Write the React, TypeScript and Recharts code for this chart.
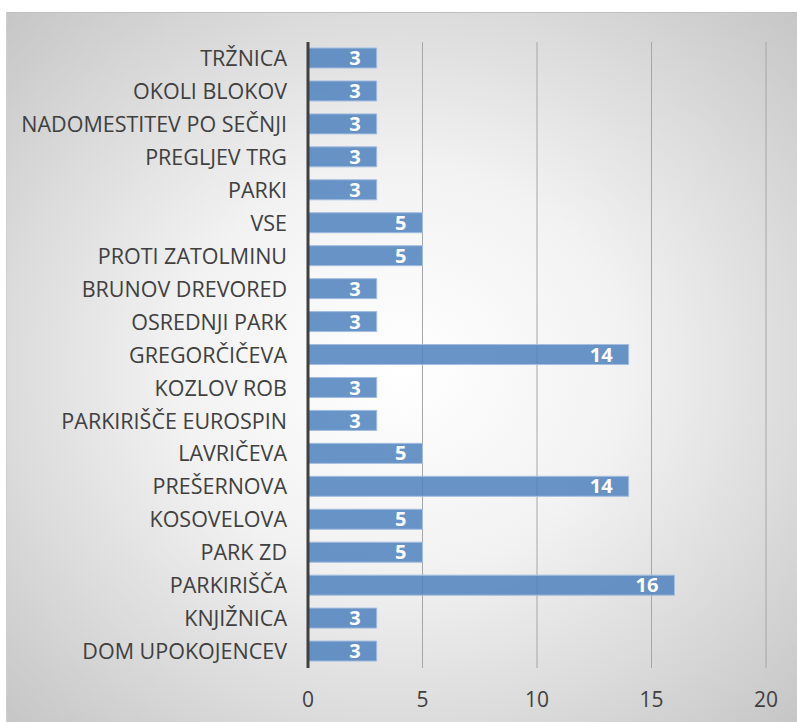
import { BarChart, Bar, XAxis, YAxis, CartesianGrid, LabelList } from 'recharts'

const categories = [
  'TRŽNICA', 'OKOLI BLOKOV', 'NADOMESTITEV PO SEČNJI', 'PREGLJEV TRG', 'PARKI',
  'VSE', 'PROTI ZATOLMINU', 'BRUNOV DREVORED', 'OSREDNJI PARK', 'GREGORČIČEVA',
  'KOZLOV ROB', 'PARKIRIŠČE EUROSPIN', 'LAVRIČEVA', 'PREŠERNOVA', 'KOSOVELOVA',
  'PARK ZD', 'PARKIRIŠČA', 'KNJIŽNICA', 'DOM UPOKOJENCEV',
]
const counts = [3, 3, 3, 3, 3, 5, 5, 3, 3, 14, 3, 3, 5, 14, 5, 5, 16, 3, 3]
const xTicks = [0, 5, 10, 15, 20]

const data = categories.map((name, i) => ({ name, value: counts[i] }))

const font = '"Open Sans", sans-serif'

export default function App() {
  return (
    <div style={{ position: 'absolute', left: 0, top: 0, width: 797, height: 722, background: '#fff' }}>
      <div style={{
        position: 'absolute', left: 6, top: 12, width: 791, height: 710,
        background: 'radial-gradient(ellipse at 50% 50%, #ffffff 0%, #f2f2f2 40%, #c6c6c6 100%)',
        borderTop: '1px solid #bfbfbf', borderLeft: '1px solid #d0d0d0', boxSizing: 'border-box',
      }}>
        <BarChart
          width={791}
          height={709}
          data={data}
          layout="vertical"
          margin={{ top: 29, right: 32, left: 0, bottom: 13 }}
        >
          <CartesianGrid horizontal={false} stroke="#a6a6a6" strokeWidth={1} />
          <XAxis
            type="number"
            domain={[0, 20]}
            ticks={xTicks}
            axisLine={false}
            tickLine={false}
            tickSize={0}
            tickMargin={24}
            height={41}
            tick={{ fontSize: 21, fill: '#404040', fontFamily: font }}
          />
          <YAxis
            type="category"
            dataKey="name"
            width={301}
            interval={0}
            axisLine={{ stroke: '#404040', strokeWidth: 3 }}
            tickLine={false}
            tickSize={0}
            tickMargin={21}
            tick={{ fontSize: 21.5, fill: '#404040', fontFamily: font }}
          />
          <Bar
            dataKey="value"
            barSize={20}
            fill="#4f81bd"
            fillOpacity={0.85}
            stroke="#a3bde0"
            strokeWidth={1}
            isAnimationActive={false}
          >
            <LabelList
              dataKey="value"
              position="insideRight"
              offset={16}
              fill="#ffffff"
              style={{ fontSize: 20, fontWeight: 700, fontFamily: font }}
            />
          </Bar>
        </BarChart>
      </div>
    </div>
  )
}
